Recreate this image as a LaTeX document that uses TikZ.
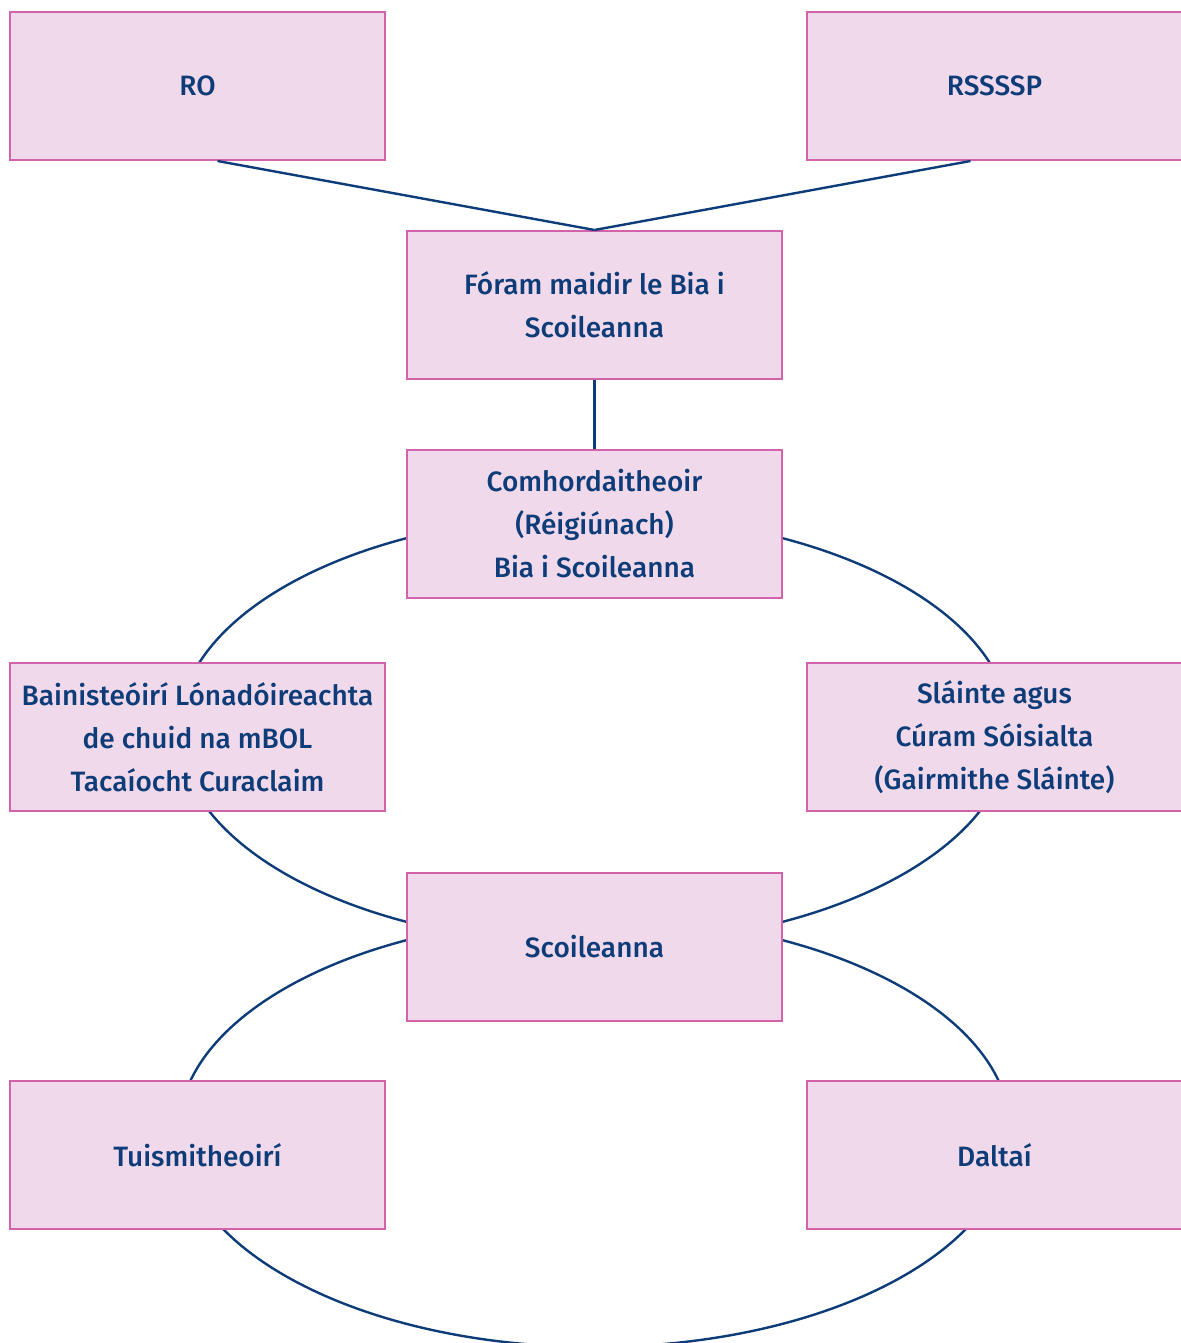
\documentclass[tikz,border=0pt]{standalone}
\usepackage{fontspec}
\setmainfont{Fira Sans}[BoldFont={Fira Sans Medium}]
\definecolor{boxfill}{HTML}{F0D9EA}
\definecolor{boxline}{HTML}{D262A9}
\definecolor{ink}{HTML}{0E3C78}
\tikzset{
  box/.style={draw=boxline, fill=boxfill, line width=1pt,
    minimum width=187.5pt, minimum height=74pt, inner sep=0pt,
    align=center, text=ink, font=\bfseries\fontsize{14}{21.5}\selectfont},
  link/.style={draw=ink, line width=1.2pt}
}
\begin{document}
\begin{tikzpicture}[x=0.5pt, y=-0.5pt]
      \useasboundingbox (0,0) rectangle (1181,1343);
      \coordinate (ring1) at (594.5,730);
      \coordinate (ring2) at (594.5,1132);
      \draw[link] (ring1) ellipse [x radius=416, y radius=215];
      \draw[link] (ring2) ellipse [x radius=416, y radius=215];
      \draw
        (197.5,86) node[box] (ro){RO}
        (994.5,86) node[box] (rsp){RSSSSP}
        (594.5,305) node[box] (foram){Fóram maidir le Bia i\\Scoileanna}
        (594.5,524) node[box] (comh){Comhordaitheoir\\(Réigiúnach)\\Bia i Scoileanna}
        (197.5,737) node[box] (bain){Bainisteóirí Lónadóireachta\\de chuid na mBOL\\Tacaíocht Curaclaim}
        (994.5,737) node[box] (slainte){Sláinte agus\\Cúram Sóisialta\\(Gairmithe Sláinte)}
        (594.5,947) node[box] (scoil){Scoileanna}
        (197.5,1155) node[box] (tuis){Tuismitheoirí}
        (994.5,1155) node[box] (dalt){Daltaí};
      \begin{scope}[link]
        \draw ([xshift=10pt]ro.south) to (foram.north);
        \draw ([xshift=-12pt]rsp.south) to (foram.north);
        \draw (foram) to (comh);
      \end{scope}
    \end{tikzpicture}
\end{document}
